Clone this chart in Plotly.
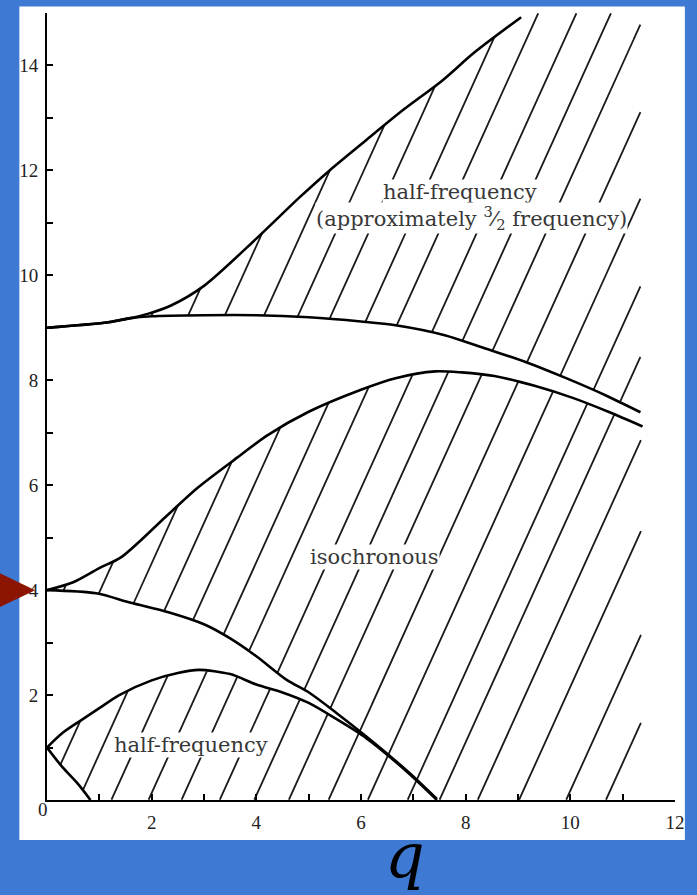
import numpy as np
import plotly.graph_objects as go

# ---------------- data (q, a) ----------------
curve_A_q = [0.0, 0.3, 0.58, 0.83]
curve_A_a = [1.0, 0.62, 0.32, 0.0]

curve_B_q = [0.0, 0.3, 0.62, 1.0, 1.38, 2.0, 2.5, 2.9, 3.5, 4.0, 4.5, 5.0, 5.5, 6.1, 6.9, 7.45]
curve_B_a = [1.0, 1.28, 1.5, 1.75, 2.0, 2.28, 2.42, 2.48, 2.4, 2.2, 2.05, 1.85, 1.56, 1.18, 0.52, 0.0]

curve_C_q = [0.0, 0.94, 1.6, 2.32, 3.0, 3.5, 4.0, 4.58, 5.02, 5.53, 6.09, 6.91, 7.45]
curve_C_a = [4.0, 3.94, 3.76, 3.58, 3.35, 3.08, 2.74, 2.29, 2.04, 1.66, 1.22, 0.53, 0.02]

curve_D_q = [0.0, 0.5, 1.0, 1.42, 2.26, 2.89, 3.64, 4.21, 5.0, 6.0, 6.66, 7.42, 7.92, 8.55, 9.3, 10.06, 10.75, 11.38]
curve_D_a = [4.0, 4.15, 4.42, 4.63, 5.39, 5.96, 6.53, 6.95, 7.4, 7.82, 8.04, 8.17, 8.15, 8.08, 7.9, 7.66, 7.39, 7.12]

curve_E_q = [0.0, 1.13, 1.57, 2.0, 3.0, 4.0, 5.0, 6.0, 6.66, 7.6, 8.36, 9.17, 9.92, 10.68, 11.34]
curve_E_a = [9.0, 9.1, 9.18, 9.22, 9.24, 9.24, 9.2, 9.12, 9.05, 8.86, 8.61, 8.34, 8.04, 7.71, 7.39]

curve_F_q = [0.0, 1.13, 1.57, 1.94, 2.38, 3.0, 4.0, 4.83, 5.4, 6.09, 6.79, 7.55, 8.17, 9.06]
curve_F_a = [9.0, 9.1, 9.18, 9.27, 9.43, 9.8, 10.7, 11.49, 12.0, 12.57, 13.14, 13.71, 14.25, 14.92]

hatch_intercepts = [-4.3, -3.6, -2.9, -2.2, -1.5, -0.8, -0.05, 0.6, 1.23, 1.94, 2.57,
                    3.3, 3.96, 4.62, 5.38, 6.13, 6.89, 7.5, 8.23, 9.02, 9.92, 10.68]
hatch_slope = 2.2
hatch_right_edge = 11.35

x_tick_vals = [2, 4, 6, 8, 10, 12]
x_tick_text = ["2", "4", "6", "8", "10", "12"]
y_tick_vals = [2, 4, 6, 8, 10, 12, 14]
y_tick_text = ["2", "4", "6", "8", "10", "12", "14"]

labels = [
    dict(q=2.76, a=1.05, text="half-frequency"),
    dict(q=6.25, a=4.63, text="isochronous"),
    dict(q=7.89, a=11.58, text="half-frequency"),
    dict(q=8.11, a=11.1, text="(approximately <sup>3</sup>⁄<sub>2</sub> frequency)"),
]

# ---------------- geometry helpers ----------------
W, H = 697, 895
ML, MR, MT, MB = 47, 14, 12.5, 95
PW, PH = W - ML - MR, H - MT - MB


def px_x(p):
    return (p - ML) / PW


def px_y(p):
    return (H - MB - p) / PH


def interp(qs, xs, ys, left=np.nan, right=np.nan):
    return np.interp(qs, xs, ys, left=left, right=right)


# ---------------- hatch lines clipped to the shaded regions ----------------
hx, hy = [], []
a_s = np.linspace(0, 15, 3001)
for c in hatch_intercepts:
    q_s = c + a_s / hatch_slope
    ok_q = (q_s >= 0) & (q_s <= hatch_right_edge)
    A_ = interp(q_s, curve_A_q, curve_A_a, left=1.0, right=0.0)
    B_ = interp(q_s, curve_B_q, curve_B_a)
    C_ = interp(q_s, curve_C_q, curve_C_a, right=0.0)
    D_ = interp(q_s, curve_D_q, curve_D_a)
    E_ = interp(q_s, curve_E_q, curve_E_a)
    F_ = interp(q_s, curve_F_q, curve_F_a, right=15.0)
    r1 = (a_s > A_) & (a_s < B_)
    r2 = (a_s > C_) & (a_s < D_)
    r3 = (a_s > E_) & (a_s < F_)
    inside = (ok_q & (r1 | r2 | r3)).astype(bool)
    prev = False
    for i in range(len(a_s)):
        if inside[i]:
            hx.append(q_s[i])
            hy.append(a_s[i])
        elif prev:
            hx.append(None)
            hy.append(None)
        prev = inside[i]
    hx.append(None)
    hy.append(None)

fig = go.Figure()
fig.add_trace(go.Scatter(x=hx, y=hy, mode="lines",
                         line=dict(color="#1a1a1a", width=1.8),
                         hoverinfo="skip", showlegend=False))

for qs, as_ in [(curve_A_q, curve_A_a), (curve_B_q, curve_B_a), (curve_C_q, curve_C_a),
                (curve_D_q, curve_D_a), (curve_E_q, curve_E_a), (curve_F_q, curve_F_a)]:
    fig.add_trace(go.Scatter(x=qs, y=as_, mode="lines",
                             line=dict(color="black", width=2.6, shape="spline", smoothing=0.8),
                             hoverinfo="skip", showlegend=False))

for lab in labels:
    fig.add_annotation(x=lab["q"], y=lab["a"], text=lab["text"], showarrow=False,
                       font=dict(family="DejaVu Serif", size=21, color="#383838"),
                       bgcolor="white", borderpad=0)

# x-axis "0" label sits left of the origin in the scan
fig.add_annotation(xref="paper", yref="paper", x=px_x(36), y=px_y(822), text="0",
                   showarrow=False, font=dict(family="Liberation Serif", size=19, color="#222222"))

fig.add_annotation(xref="paper", yref="paper", x=px_x(410), y=px_y(894),
                   text="<i>q</i>", showarrow=False,
                   font=dict(family="DejaVu Serif", size=62, color="black"))

# white sheet behind the scanned figure
fig.add_shape(type="rect", xref="paper", yref="paper", layer="below",
              x0=px_x(19), x1=px_x(693), y0=px_y(840), y1=px_y(6),
              fillcolor="white", line=dict(width=0))
# red pointer at a = 4
fig.add_shape(type="path", xref="paper", yref="paper", layer="above",
              path=f"M {px_x(-5)} {px_y(571)} L {px_x(35)} {px_y(590)} L {px_x(-5)} {px_y(609)} Z",
              fillcolor="#8b1500", line=dict(width=0))

axis_common = dict(showgrid=False, zeroline=False, showline=True, linecolor="black",
                   linewidth=2, ticks="inside", ticklen=6, tickwidth=1.5, tickcolor="black",
                   tickfont=dict(family="Liberation Serif", size=19, color="#222222"),
                   tickmode="array",
                   minor=dict(ticks="inside", ticklen=6, tickwidth=1.5, tickcolor="black",
                              tick0=0, dtick=1, showgrid=False))
fig.update_xaxes(range=[0, 12], tickvals=x_tick_vals, ticktext=x_tick_text,
                 ticklabelstandoff=4, **axis_common)
fig.update_yaxes(range=[0, 15], tickvals=y_tick_vals, ticktext=y_tick_text,
                 ticklabelstandoff=3, **axis_common)

fig.update_layout(width=W, height=H, margin=dict(l=ML, r=MR, t=MT, b=MB),
                  paper_bgcolor="#3e7ad3", plot_bgcolor="white", showlegend=False)

fig.write_html("out.html")
